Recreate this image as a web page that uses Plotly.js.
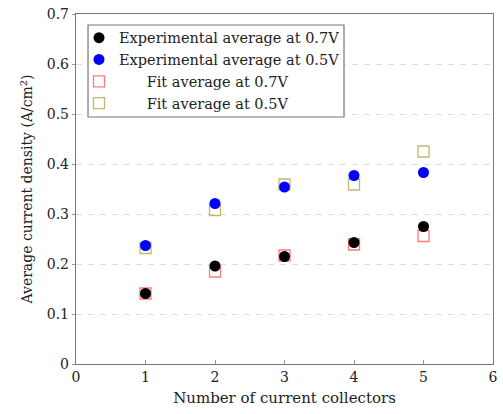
<!DOCTYPE html>
<html><head><meta charset="utf-8">
<script src="https://cdn.plot.ly/plotly-3.0.1.min.js"></script>
<style>html,body{margin:0;padding:0;background:#fff}#chart{width:503px;height:414px}</style>
</head><body><div id="chart"></div>
<script>
const collectors = [1, 2, 3, 4, 5];
const exp07 = [0.141, 0.196, 0.215, 0.243, 0.275];
const exp05 = [0.237, 0.321, 0.354, 0.377, 0.383];
const fit07 = [0.141, 0.185, 0.217, 0.239, 0.256];
const fit05 = [0.232, 0.308, 0.359, 0.359, 0.425];
const pad = '\u00a0'.repeat(6);
const names = ['Experimental average at 0.7V', 'Experimental average at 0.5V',
  pad + 'Fit average at 0.7V', pad + 'Fit average at 0.5V'];
const xTicks = [0, 1, 2, 3, 4, 5, 6];
const yTicks = [0, 0.1, 0.2, 0.3, 0.4, 0.5, 0.6, 0.7];

const font = '"DejaVu Serif", serif';
const traces = [
  {x: collectors, y: fit07, name: names[2], legendrank: 3, mode: 'markers', type: 'scatter',
   marker: {symbol: 'square-open', size: 11, color: '#ff7a7a', line: {width: 1.3}}},
  {x: collectors, y: fit05, name: names[3], legendrank: 4, mode: 'markers', type: 'scatter',
   marker: {symbol: 'square-open', size: 11, color: '#c2b670', line: {width: 1.3}}},
  {x: collectors, y: exp07, name: names[0], legendrank: 1, mode: 'markers', type: 'scatter',
   marker: {symbol: 'circle', size: 11, color: '#000000'}},
  {x: collectors, y: exp05, name: names[1], legendrank: 2, mode: 'markers', type: 'scatter',
   marker: {symbol: 'circle', size: 11, color: '#0000ff'}}
];
const layout = {
  width: 503, height: 414,
  margin: {l: 76, r: 10, t: 14, b: 50},
  paper_bgcolor: '#fff', plot_bgcolor: '#fff',
  font: {family: font, size: 14, color: '#222'},
  showlegend: true,
  legend: {x: 0.0072, y: 0.978, xanchor: 'left', yanchor: 'top',
    bgcolor: 'rgba(0,0,0,0)', borderwidth: 0,
    font: {family: font, size: 14.5, color: '#222'}, tracegroupgap: 0, itemwidth: 30},
  shapes: [{type: 'rect', xref: 'paper', yref: 'paper', x0: 0.0288, x1: 0.6427, y0: 0.7057, y1: 0.9686,
    fillcolor: '#fff', line: {color: '#777', width: 1.2}, layer: 'above'}],
  xaxis: {range: [0, 6], tickvals: xTicks, ticktext: xTicks.map(String),
    showgrid: false, zeroline: false, showline: true, mirror: true,
    linecolor: '#777', linewidth: 1.2, ticks: 'inside', ticklen: 4, tickcolor: '#999',
    tickfont: {family: font, size: 14},
    title: {text: 'Number of current collectors', font: {family: font, size: 15}, standoff: 8}},
  yaxis: {range: [0, 0.7], tickvals: yTicks, ticktext: yTicks.map(v => v === 0 ? '0' : v.toFixed(1)),
    showgrid: true, gridcolor: '#dddddd', griddash: '6px,6px', gridwidth: 1,
    zeroline: false, showline: true, mirror: true,
    linecolor: '#777', linewidth: 1.2, ticks: 'outside', ticklen: 3, tickcolor: '#999',
    tickfont: {family: font, size: 14},
    title: {text: 'Average current density (A/cm<sup>2</sup>)', font: {family: font, size: 14}, standoff: 10}}
};
Plotly.newPlot('chart', traces, layout, {displayModeBar: false, staticPlot: true});
</script></body></html>
